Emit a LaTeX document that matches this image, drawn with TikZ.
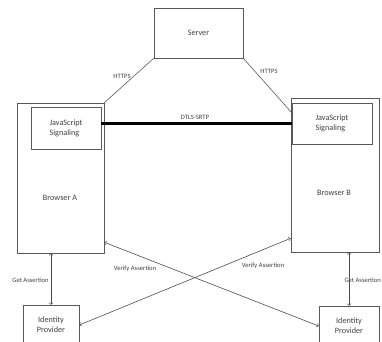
\documentclass[tikz,border=0pt]{standalone}
\usepackage{fontspec}
\setmainfont{Carlito}
\usepackage{tikz}
\usepackage{xcolor}

\begin{document}
\begin{tikzpicture}[x=1pt,y=-1pt]
      \clip (0,0) rectangle (382,341);
      \tikzset{B/.style = {shape=rectangle, draw=black!65, line width=0.6pt, text=black!75, font=\fontsize{8.2}{10}\selectfont, inner sep=0pt}}
      \tikzset{L/.style = {text=black!75, font=\fontsize{6.6}{8}\selectfont, inner sep=0pt}}
      \tikzset{E/.style = {draw=black!65, line width=0.6pt}}
      \tikzset{A/.style = {draw=black!70, line width=0.6pt, <->}}
      \node[B,minimum width=89,minimum height=50](server) at (198.5,33) {Server};
      \node[B,minimum width=87,minimum height=150](browserA) at (60.5,178) {};
      \node[B,minimum width=88,minimum height=154](browserB) at (335,175) {};
      \node[B,minimum width=70,minimum height=42,align=left](jsA) at (66,128) {JavaScript\\Signaling};
      \node[B,minimum width=80,minimum height=41,align=left](jsB) at (332,123.5) {JavaScript\\Signaling};
      \node[B,draw=none](txtA) at (60,198) {Browser A};
      \node[B,draw=none](txtB) at (334,193) {Browser B};
      \node[B,minimum width=56,minimum height=40,align=center](idpA) at (51,325) {Identity\\Provider};
      \node[B,minimum width=60,minimum height=40,align=center](idpB) at (349,326) {Identity\\Provider};
      \draw[E](server.south west) to (browserA.north east);
      \draw[E](server.south east) to ([yshift=-10pt]jsB.north west);
      \draw[line width=2.4pt](jsA.east |- jsB.west) to (jsB.west);
      \draw[A](idpA.north |- browserA.south) to (idpA.north);
      \draw[A](idpB.north |- browserB.south) to (idpB.north);
      \draw[A]([yshift=11pt]browserA.south east) to (idpB.west);
      \draw[A](idpA.east) to ([yshift=14pt]browserB.south west);
      \node[L](https1) at (122,76) {HTTPS};
      \node[L](https2) at (269,71) {HTTPS};
      \node[L](dtls) at (195,117) {DTLS-SRTP};
      \node[L](get1) at (30.5,280) {Get Assertion};
      \node[L,anchor=east](get2) at (381,280) {Get Assertion};
      \node[L](ver1) at (135,269) {Verify Assertion};
      \node[L](ver2) at (263,266) {Verify Assertion};
    \end{tikzpicture}
\end{document}
